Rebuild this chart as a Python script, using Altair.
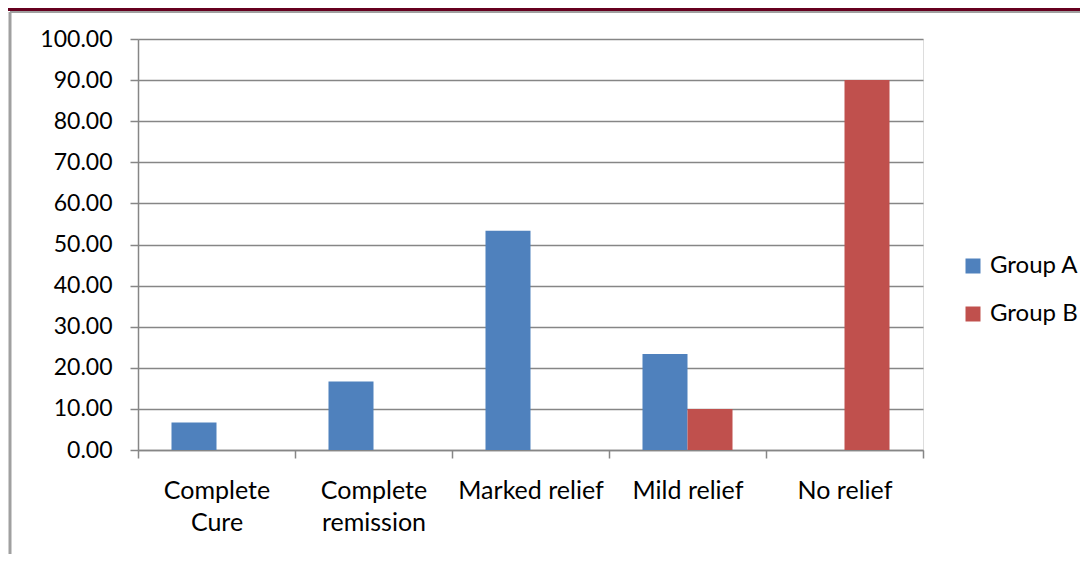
import altair as alt
import pandas as pd

categories = ["Complete Cure", "Complete remission", "Marked relief", "Mild relief", "No relief"]
group_a = [6.67, 16.67, 53.33, 23.33, 0.0]
group_b = [0.0, 0.0, 0.0, 10.0, 90.0]
groups = ["Group A", "Group B"]
colors = ["#4F81BD", "#C0504D"]

rows = []
for c, a, b in zip(categories, group_a, group_b):
    rows.append({"category": c, "group": "Group A", "value": a})
    rows.append({"category": c, "group": "Group B", "value": b})
df = pd.DataFrame(rows)

FONT = "Lato"
W, H = 785, 411

bars = alt.Chart(df).mark_bar().encode(
    x=alt.X("category:N", sort=categories, title=None,
            scale=alt.Scale(paddingInner=0, paddingOuter=0),
            axis=alt.Axis(labelAngle=0, labelFont=FONT, labelFontSize=25, labelColor="#000000",
                          labelPadding=20, tickSize=8, tickColor="#868686", domainColor="#868686",
                          tickBand="extent", labelLineHeight=32, tickWidth=1.5, domainWidth=1.5,
                          labelExpr="indexof(datum.label, 'Complete') == 0 ? split(datum.label, ' ') : datum.label",
                          grid=False)),
    xOffset=alt.XOffset("group:N", sort=groups,
                        scale=alt.Scale(paddingInner=0, paddingOuter=0.744)),
    y=alt.Y("value:Q", title=None,
            scale=alt.Scale(domain=[0, 100], nice=False),
            axis=alt.Axis(values=list(range(0, 101, 10)), format=".2f", labelFont=FONT, labelFontSize=23,
                          labelColor="#000000", labelPadding=18, tickSize=8, tickColor="#868686",
                          tickWidth=1.5, domainWidth=1.5,
                          domainColor="#868686", gridColor="#868686", gridWidth=1.5)),
    color=alt.Color("group:N", sort=groups, scale=alt.Scale(domain=groups, range=colors),
                    legend=alt.Legend(title=None, orient="none", legendX=823, legendY=215,
                                      symbolType="square", symbolSize=225, symbolStrokeWidth=0,
                                      labelFont=FONT, labelFontSize=24, labelColor="#000000",
                                      rowPadding=24, labelOffset=5)),
)

deco = pd.DataFrame({"k": [0]})
top_line = alt.Chart(deco).mark_rule(color="#66001F", strokeWidth=4).encode(
    x=alt.value(-140), x2=alt.value(W + 160), y=alt.value(-30))
frame_top = alt.Chart(deco).mark_rule(color="#A0A0A0", strokeWidth=2).encode(
    x=alt.value(-128), x2=alt.value(W + 160), y=alt.value(-27))
frame_left = alt.Chart(deco).mark_rule(color="#A0A0A0", strokeWidth=3).encode(
    x=alt.value(-128), y=alt.value(-27), y2=alt.value(H + 120))

chart = alt.layer(bars, top_line, frame_top, frame_left).properties(
    width=W, height=H,
    autosize=alt.AutoSizeParams(type="none"),
    padding={"left": 130, "top": 31, "right": 157, "bottom": 104},
).configure_view(stroke=None).configure(background="#FFFFFF")

chart.save("out.html", embed_options={"renderer": "svg", "actions": False})
